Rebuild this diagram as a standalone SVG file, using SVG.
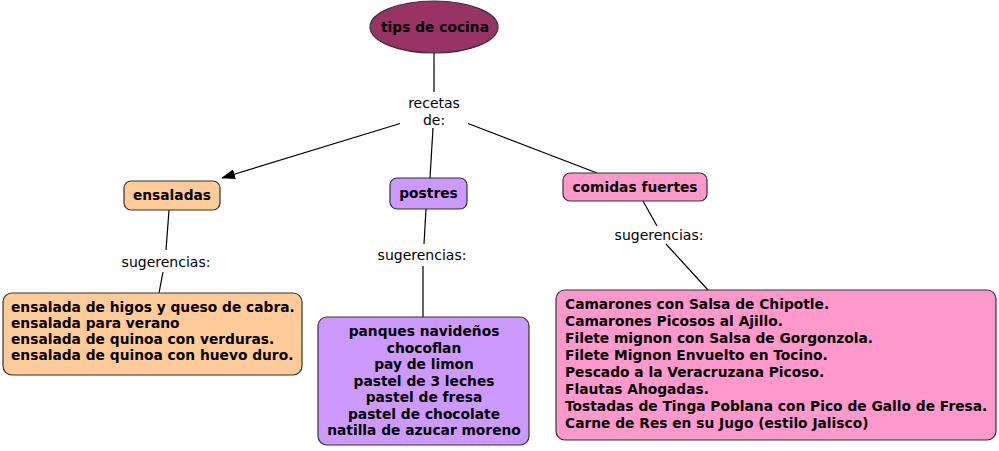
<svg xmlns="http://www.w3.org/2000/svg" width="999" height="451" viewBox="0 0 999 451">
<defs>
<style>
.n{stroke:#333;stroke-width:1.2}
.b{font-family:"DejaVu Sans",Verdana,sans-serif;font-weight:bold;font-size:13.8px;fill:#000}
.l{font-family:"DejaVu Sans",Verdana,sans-serif;font-size:14px;fill:#000}
.c line{stroke:#000;stroke-width:1.2}
</style>
<marker id="ar" markerWidth="14" markerHeight="10" refX="13" refY="5" orient="auto" markerUnits="userSpaceOnUse">
<path d="M0,0 L14,5 L0,10 Z" fill="#000"/>
</marker>
</defs>
<rect width="999" height="451" fill="#fff"/>
<g class="c" id="connectors">
<line x1="434" y1="53" x2="434" y2="93"/>
<line x1="405" y1="122" x2="222" y2="178" marker-end="url(#ar)"/>
<line x1="433" y1="128" x2="430" y2="178"/>
<line x1="464" y1="122" x2="597" y2="173"/>
<line x1="169" y1="210" x2="166" y2="250"/>
<line x1="163" y1="272" x2="159" y2="293"/>
<line x1="426" y1="209" x2="424" y2="244"/>
<line x1="423" y1="266" x2="423" y2="317"/>
<line x1="643" y1="201" x2="657" y2="226"/>
<line x1="666" y1="244" x2="708" y2="290"/>
</g>
<g id="lbl-recetas">
<rect x="400" y="92" width="68" height="36" fill="#fff"/>
<text class="l" x="434" y="108" text-anchor="middle">recetas</text>
<text class="l" x="434" y="125" text-anchor="middle">de:</text>
</g>
<g id="lbl-sug1"><text class="l" x="166" y="267" text-anchor="middle">sugerencias:</text></g>
<g id="lbl-sug2"><text class="l" x="422" y="260" text-anchor="middle">sugerencias:</text></g>
<g id="lbl-sug3"><text class="l" x="659" y="240" text-anchor="middle">sugerencias:</text></g>
<g id="tips">
<ellipse class="n" cx="434" cy="27" rx="64" ry="26" fill="#993366"/>
<text class="b" x="435" y="32" text-anchor="middle">tips de cocina</text>
</g>
<g id="ensaladas">
<rect class="n" x="124" y="181" width="96" height="29" rx="7" fill="#ffcc99"/>
<text class="b" x="172" y="200" text-anchor="middle">ensaladas</text>
</g>
<g id="postres">
<rect class="n" x="390" y="178" width="77" height="31" rx="7" fill="#cc99ff"/>
<text class="b" x="428.5" y="198" text-anchor="middle">postres</text>
</g>
<g id="comidas">
<rect class="n" x="563" y="173" width="144" height="28" rx="7" fill="#ff99cc"/>
<text class="b" x="635" y="192" text-anchor="middle">comidas fuertes</text>
</g>
<g id="ens-list">
<rect class="n" x="3" y="293" width="299" height="82" rx="9" fill="#ffcc99"/>
<text class="b" x="11" y="312">ensalada de higos y queso de cabra.</text>
<text class="b" x="11" y="328">ensalada para verano</text>
<text class="b" x="11" y="344">ensalada de quinoa con verduras.</text>
<text class="b" x="11" y="360">ensalada de quinoa con huevo duro.</text>
</g>
<g id="post-list">
<rect class="n" x="318" y="317" width="211" height="128" rx="9" fill="#cc99ff"/>
<g text-anchor="middle">
<text class="b" x="424" y="336">panques navideños</text>
<text class="b" x="424" y="352.5">chocoflan</text>
<text class="b" x="424" y="369">pay de limon</text>
<text class="b" x="424" y="385.5">pastel de 3 leches</text>
<text class="b" x="424" y="402">pastel de fresa</text>
<text class="b" x="424" y="418.5">pastel de chocolate</text>
<text class="b" x="424" y="435">natilla de azucar moreno</text>
</g>
</g>
<g id="com-list">
<rect class="n" x="556" y="290" width="440" height="150" rx="9" fill="#ff99cc"/>
<text class="b" x="565" y="309">Camarones con Salsa de Chipotle.</text>
<text class="b" x="565" y="326">Camarones Picosos al Ajillo.</text>
<text class="b" x="565" y="343">Filete mignon con Salsa de Gorgonzola.</text>
<text class="b" x="565" y="360">Filete Mignon Envuelto en Tocino.</text>
<text class="b" x="565" y="376.5">Pescado a la Veracruzana Picoso.</text>
<text class="b" x="565" y="393.5">Flautas Ahogadas.</text>
<text class="b" x="565" y="410.5">Tostadas de Tinga Poblana con Pico de Gallo de Fresa.</text>
<text class="b" x="565" y="427.5">Carne de Res en su Jugo (estilo Jalisco)</text>
</g>
</svg>
